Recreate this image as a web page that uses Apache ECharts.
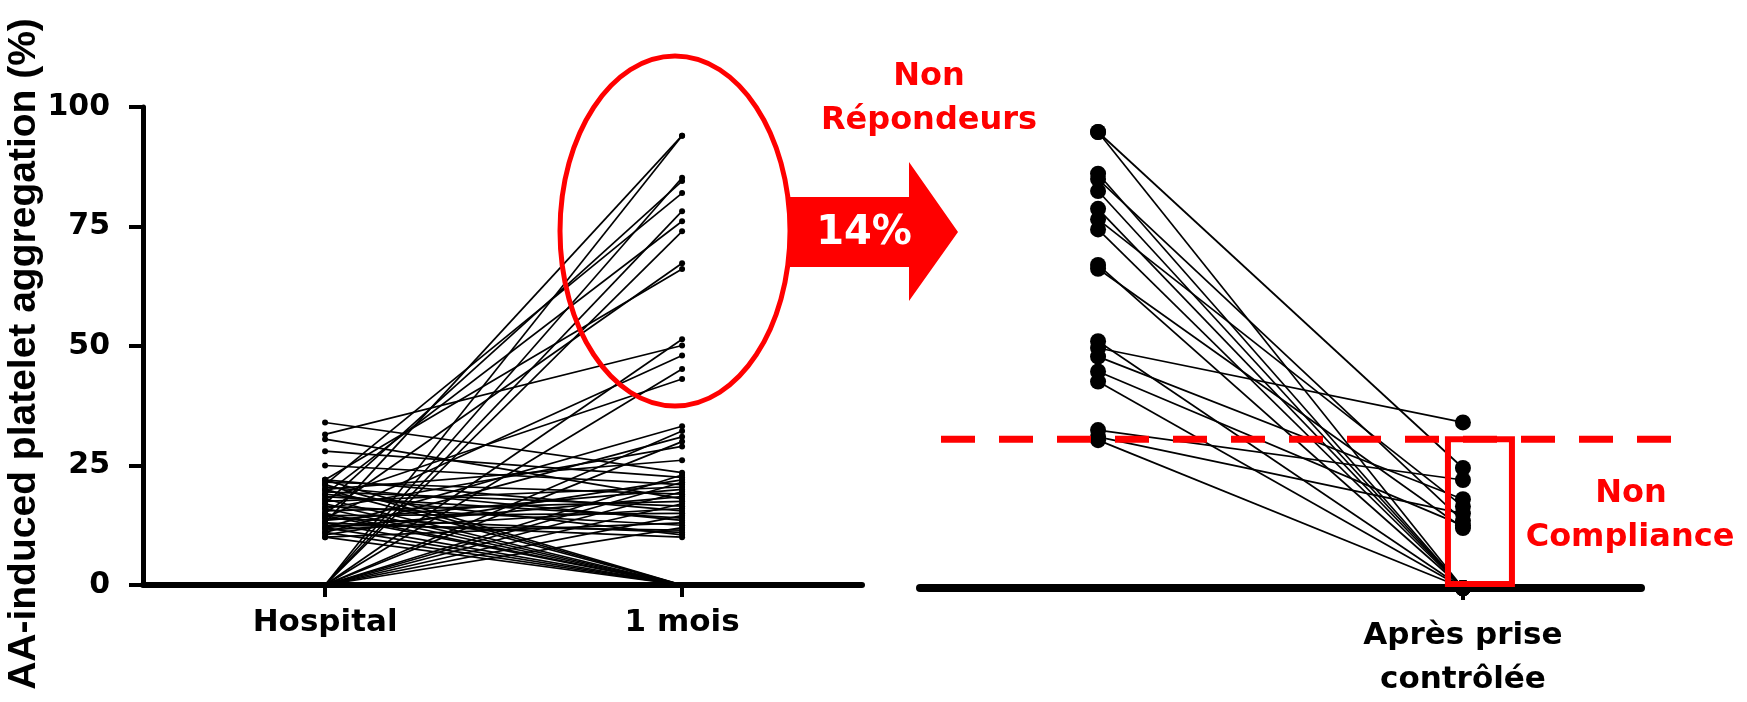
<!DOCTYPE html>
<html><head><meta charset="utf-8">
<script src="https://cdn.jsdelivr.net/npm/echarts@6/dist/echarts.min.js"></script>
<style>html,body{margin:0;padding:0;background:#fff}#c{width:1747px;height:702px}</style>
</head><body><div id="c"></div>
<script>
// ---- data ----
const leftLabels = ['Hospital', '1 mois'];
const rightLabel = 'Après prise\ncontrôlée';
const yTicks = [0, 25, 50, 75, 100];
const hospital = [0, 13, 0, 17, 21, 0, 19, 0, 15, 22,
  0, 31.5, 14, 0, 18, 12, 0, 11, 0, 16,
  20, 34, 0, 28, 10.5, 0, 25, 17.5, 13.5, 0,
  21.5, 12, 30.5, 15.5, 0, 19.5, 11.5, 22, 14.5, 0,
  18.5, 20.5, 10, 16.5, 0, 12.5, 14, 19, 13,
  10, 11, 12, 13, 14.5, 15, 16, 17, 18, 20, 21, 22];
const mois1 = [94, 94, 85.2, 84.5, 82, 78.2, 76.1, 74, 67.3, 66.1,
  51.4, 50.1, 48, 45.2, 43.1, 33.2, 32.2, 31, 30, 29,
  26.1, 23.5, 23, 22.5, 22, 21.5, 21, 20.5, 20, 19.5,
  19, 18.5, 18, 17.5, 17, 16.5, 16, 15.5, 15, 14.5,
  14, 13.5, 13, 12.5, 12, 11.5, 11, 10.5, 10,
  0, 0, 0, 0, 0, 0, 0, 0, 0, 0, 0, 0];
const nrMois = [95, 95, 86.3, 85.2, 82.7, 79, 76.8, 74.7, 67.3, 66.5, 51.4, 50, 48.2, 45.1, 43, 32.9, 31.5, 30.8];
const nrApres = [0, 25, 0, 14, 0, 0, 17, 0, 0, 12.5, 0, 34.5, 18.5, 13, 0, 22.5, 15.5, 0];
const threshold = 31;
const pctText = '14%';

const chart = echarts.init(document.getElementById('c'));
const FONT = 'DejaVu Sans';
const series = [];
hospital.forEach((h, i) => {
  series.push({type: 'line', xAxisIndex: 0, yAxisIndex: 0, data: [[0, h], [1, mois1[i]]],
    symbol: 'none', silent: true, z: 2, lineStyle: {color: '#000', width: 1.7}});
});
series.push({type: 'scatter', xAxisIndex: 0, yAxisIndex: 0, symbolSize: 6, z: 3, silent: true,
  itemStyle: {color: '#000', opacity: 1},
  data: hospital.map(v => [0, v]).concat(mois1.map(v => [1, v]))});
nrMois.forEach((m, i) => {
  series.push({type: 'line', xAxisIndex: 1, yAxisIndex: 1, data: [[0, m], [1, nrApres[i]]],
    symbol: 'none', silent: true, z: 2, lineStyle: {color: '#000', width: 1.7}});
});
series.push({type: 'scatter', xAxisIndex: 1, yAxisIndex: 1, symbolSize: 16, z: 3, silent: true,
  itemStyle: {color: '#000', opacity: 1},
  data: nrMois.map(v => [0, v]).concat(nrApres.map(v => [1, v]))});

chart.setOption({
  animation: false,
  backgroundColor: '#fff',
  grid: [
    {left: 143, right: 885, top: 107, bottom: 117},
    {left: 920, right: 106, top: 108, bottom: 113}
  ],
  xAxis: [
    {type: 'value', gridIndex: 0, min: -0.51, max: 1.504,
      axisLine: {show: true, onZero: false, lineStyle: {color: '#000', width: 6}},
      axisTick: {show: true, customValues: [0, 1], length: 12, lineStyle: {color: '#000', width: 4}},
      axisLabel: {show: true, customValues: [0, 1], formatter: v => leftLabels[Math.round(v)],
        fontFamily: FONT, fontWeight: 'bold', fontSize: 31, color: '#000', margin: 22},
      splitLine: {show: false}},
    {type: 'value', gridIndex: 1, min: -0.488, max: 1.488,
      axisLine: {show: true, onZero: false, lineStyle: {color: '#000', width: 8}},
      axisTick: {show: true, customValues: [1], length: 12, lineStyle: {color: '#000', width: 4}},
      axisLabel: {show: true, customValues: [1], formatter: () => rightLabel,
        fontFamily: FONT, fontWeight: 'bold', fontSize: 31, lineHeight: 44, color: '#000', margin: 26},
      splitLine: {show: false}}
  ],
  yAxis: [
    {type: 'value', gridIndex: 0, min: 0, max: 100, interval: 25,
      name: 'AA-induced platelet aggregation (%)', nameLocation: 'middle', nameRotate: 90, nameGap: 86,
      nameTextStyle: {fontFamily: 'Liberation Sans', fontWeight: 'bold', fontSize: 39, color: '#000',
        padding: [0, 16, 0, 0]},
      axisLine: {show: true, onZero: false, lineStyle: {color: '#000', width: 5}},
      axisTick: {show: true, length: 14, lineStyle: {color: '#000', width: 4}},
      axisLabel: {fontFamily: FONT, fontWeight: 'bold', fontSize: 30, color: '#000', margin: 33,
        formatter: v => String(yTicks[yTicks.indexOf(v)])},
      splitLine: {show: false}},
    {type: 'value', gridIndex: 1, min: 0, max: 100, show: false, splitLine: {show: false}}
  ],
  series: series
});

// threshold-based annotations in the right panel, positioned through the axes
const pTh = chart.convertToPixel({xAxisIndex: 1, yAxisIndex: 1}, [1, threshold]);
const pZero = chart.convertToPixel({xAxisIndex: 1, yAxisIndex: 1}, [1, 0]);
const yTh = pTh[1];
const xR = pTh[0];

chart.setOption({
  graphic: [
    {type: 'ellipse', z: 50, shape: {cx: 675, cy: 231, rx: 115, ry: 175},
      style: {fill: 'none', stroke: '#ff0000', lineWidth: 5}},
    {type: 'polygon', z: 50, shape: {points: [[789, 197], [909, 197], [909, 162], [958, 232], [909, 301], [909, 267], [789, 267]]},
      style: {fill: '#ff0000'}},
    {type: 'text', z: 51, style: {text: pctText, x: 864, y: 234, textAlign: 'center', textVerticalAlign: 'middle',
      fill: '#fff', font: 'bold 40px "DejaVu Sans"'}},
    {type: 'text', z: 51, style: {text: 'Non', x: 929, y: 77, textAlign: 'center', textVerticalAlign: 'middle',
      fill: '#ff0000', font: 'bold 32px "DejaVu Sans"'}},
    {type: 'text', z: 51, style: {text: 'Répondeurs', x: 929, y: 121, textAlign: 'center', textVerticalAlign: 'middle',
      fill: '#ff0000', font: 'bold 32px "DejaVu Sans"'}},
    {type: 'line', z: 52, shape: {x1: 941, y1: yTh, x2: 1680, y2: yTh},
      style: {stroke: '#ff0000', lineWidth: 7, lineDash: [34, 24]}},
    {type: 'rect', z: 50, shape: {x: xR - 15, y: yTh, width: 64, height: pZero[1] - yTh - 4},
      style: {fill: 'none', stroke: '#ff0000', lineWidth: 6}},
    {type: 'text', z: 51, style: {text: 'Non', x: 1631, y: 494, textAlign: 'center', textVerticalAlign: 'middle',
      fill: '#ff0000', font: 'bold 32px "DejaVu Sans"'}},
    {type: 'text', z: 51, style: {text: 'Compliance', x: 1630, y: 538, textAlign: 'center', textVerticalAlign: 'middle',
      fill: '#ff0000', font: 'bold 32px "DejaVu Sans"'}}
  ]
});
</script></body></html>
